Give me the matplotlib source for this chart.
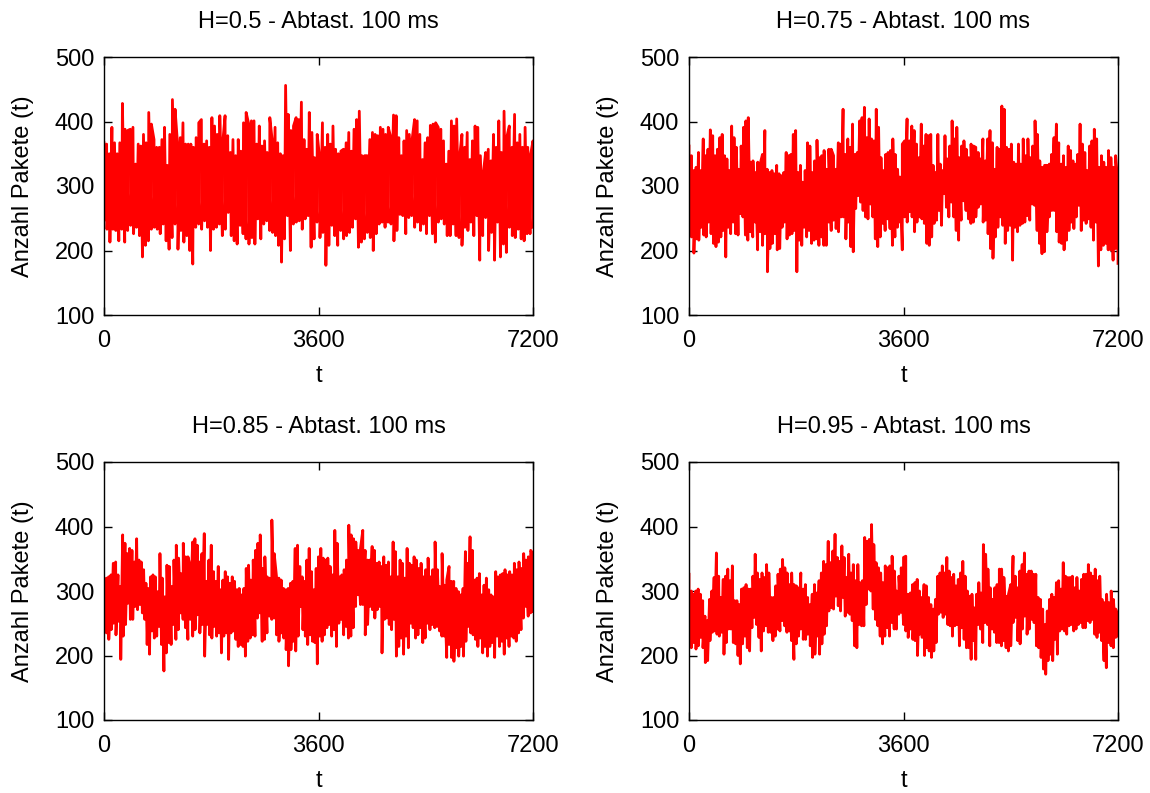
import numpy as np
import matplotlib
matplotlib.use("Agg")
import matplotlib.pyplot as plt

plt.rcParams['font.family'] = ['Liberation Sans', 'DejaVu Sans']

titles = ["H=0.5 - Abtast. 100 ms", "H=0.75 - Abtast. 100 ms",
          "H=0.85 - Abtast. 100 ms", "H=0.95 - Abtast. 100 ms"]
xticks = [0, 3600, 7200]
yticks = [100, 200, 300, 400, 500]

# Panel 1 (H=0.5): local maxima / minima read left to right
peaks_05 = [367, 365, 350, 391, 367, 350, 367, 428, 388, 386, 388, 391, 334, 365, 362, 380, 367, 414, 396, 372,
            360, 360, 372, 391, 332, 380, 434, 419, 362, 375, 398, 365, 365, 365, 360, 375, 398, 403, 365, 370,
            360, 406, 393, 380, 409, 362, 409, 378, 352, 372, 347,
            372, 354, 398, 414, 396, 401, 401, 365, 393, 362, 370, 352, 406, 367, 391, 367, 350, 347, 456, 411,
            386, 393, 406, 403, 430, 372, 357, 414, 383, 344, 380, 341, 398, 360, 380, 365, 393, 357, 350, 354,
            357, 367, 383, 354, 388, 403, 416, 347, 347, 347, 372, 383, 380, 378, 391, 388,
            380, 391, 375, 410, 409, 375, 347, 370, 386, 380, 370, 403, 401, 380, 341, 367, 375, 394, 396, 398,
            391, 388, 370, 334, 354, 401, 393, 404, 341, 380, 360, 383, 341, 370, 393, 391, 347, 316, 352, 357,
            339, 380, 360, 401, 352, 416, 375, 393, 360, 411, 367, 380, 360, 391, 360, 347, 370]
troughs_05 = [246, 233, 213, 233, 231, 215, 233, 213, 231, 239, 226, 236, 223, 190, 208, 215, 233, 236, 233, 226,
              241, 215, 202, 220, 241, 202, 231, 213, 223, 200, 179, 236, 241, 233, 246, 236, 200, 233, 236, 241,
              223, 233, 259, 223,
              215, 210, 239, 226, 218, 210, 220, 210, 249, 218, 241, 246, 231, 228, 223, 208, 182, 218, 254, 200,
              241, 244, 246, 233, 249, 254, 205, 218, 244, 220, 228, 177, 208, 239, 223, 208, 231, 218, 223, 228,
              236, 249, 205, 213, 218, 228, 220, 200, 226, 241, 244, 236,
              244, 241, 215, 231, 256, 254, 226, 251, 254, 236, 244, 231, 241, 226, 254, 226, 213, 244, 249, 241,
              223, 223, 241, 223, 220, 208, 236, 231, 244, 223, 254, 185, 223, 251, 200, 228, 185, 244, 190, 210,
              197, 236, 223, 220, 233, 218, 215, 226, 226, 236]

# Panel 2 (H=0.75)
peaks_075 = [362, 347, 324, 329, 352, 324, 373, 347, 357, 387, 378, 347, 357, 375, 380, 347, 342, 324, 393, 375,
             360, 326, 362, 391, 401, 406, 337, 339, 321, 337, 334, 349, 386, 326, 321, 324, 319, 332, 319, 316,
             321, 352, 347, 349, 380, 386, 321, 332, 306, 324, 367, 362, 321, 339, 371, 344, 347, 355, 326, 357,
             357, 347, 326, 367, 365, 419, 349, 373, 360, 396, 349, 352, 401, 406, 422, 375, 404, 373, 370, 419,
             391, 344, 324, 349, 352, 355, 373, 349, 326, 314, 365, 370, 404, 370, 393, 386, 365, 344, 396, 362,
             380, 378, 380, 332, 321, 380, 334, 324, 378, 342, 362, 401, 373, 391, 344, 362, 370, 357, 344, 365,
             362, 360,
             352, 342, 373, 339, 373, 386, 367, 326, 360, 357, 424, 419, 360, 357, 365, 337, 334, 365, 334, 373,
             347, 373, 344, 362, 401, 380, 339, 329, 332, 332, 334, 349, 375, 396, 367, 334, 347, 329, 362, 355,
             339, 334, 349, 396, 365, 352, 324, 362, 370, 388, 373, 329, 347, 337, 329, 355, 344, 329, 347, 301]
troughs_075 = [236, 221, 196, 218, 216, 236, 224, 221, 244, 226, 211, 206, 213, 221, 231, 190, 236, 226, 244, 226,
               224, 257, 252, 224, 216, 229, 221, 244, 201, 229, 208, 226, 167, 203, 211, 226, 201, 203, 236, 244,
               218, 224, 226, 231, 167, 216, 208, 236, 221, 231, 211, 216, 218, 208, 221, 208,
               208, 244, 231, 247, 234, 229, 252, 252, 218, 244, 206, 198, 265, 285, 275, 262, 252, 249, 272, 252,
               218, 206, 221, 242, 231, 249, 234, 208, 221, 236, 244, 201, 252, 244, 260, 252, 229, 244, 252, 249,
               242, 211, 208, 221, 242, 247, 262, 239, 288, 267, 252, 275, 252, 231, 216, 247, 277, 262, 249, 242,
               244, 252, 267, 272, 244, 247, 226, 203, 188, 221, 236, 252, 239, 211, 231, 239, 185, 236, 229, 239,
               242, 244, 254, 247, 272, 270, 231, 211, 195, 198, 229, 252, 262, 262, 229, 213, 211, 201, 216, 231,
               244, 234, 252, 270, 231, 247, 242, 249, 236, 216, 244, 176, 201, 208, 211, 201, 201, 185, 203, 180]

# Panel 3 (H=0.85)
peaks_085 = [302, 320, 322, 325, 343, 345, 325, 307, 387, 374, 358, 366, 363, 345, 381, 348, 345, 333, 312, 304,
             322, 325, 322, 299, 358, 320, 291, 340, 338, 307, 348, 371, 351, 327, 374, 353, 353, 338, 376, 381,
             371, 345, 358, 389, 315, 348, 371, 330, 315, 338, 302, 317, 330, 322, 312, 322, 315, 302, 304,
             294, 304, 335, 340, 317, 348, 363, 374, 387, 335, 353, 322, 320, 410, 358, 322, 320, 317, 304, 302,
             304, 312, 315, 366, 371, 338, 322, 315, 348, 366, 330, 302, 335, 353, 366, 351, 348, 351, 338, 325,
             394, 374, 322, 325, 333, 348, 402, 387, 381, 376, 363, 366, 394, 363, 348, 348, 369, 363, 343, 345,
             338, 353, 340,
             345, 322, 376, 361, 322, 348, 343, 320, 366, 343, 340, 353, 348, 335, 343, 322, 333, 351, 322, 333,
             376, 333, 307, 358, 309, 317, 338, 315, 315, 304, 299, 294, 304, 361, 343, 384, 363, 317, 320, 327,
             294, 309, 320, 302, 294, 291, 330, 322, 325, 327, 333, 325, 330, 325, 343, 333, 345, 335, 358, 348,
             353, 363, 358]
troughs_085 = [266, 235, 225, 240, 250, 232, 253, 194, 230, 248, 281, 256, 256, 276, 271, 279, 266, 256, 217, 202,
               238, 227, 230, 245, 217, 176, 204, 220, 217, 248, 225, 240, 266, 256, 243, 225, 256, 230, 240, 263,
               235, 248, 199, 248, 232, 227, 245, 230, 235, 204, 230, 235, 194, 235, 238, 225, 214, 217,
               214, 199, 222, 227, 232, 230, 258, 266, 222, 225, 235, 261, 256, 258, 232, 222, 235, 227, 209, 184,
               209, 222, 207, 230, 276, 240, 230, 217, 232, 222, 220, 187, 230, 222, 232, 243, 248, 230, 240, 214,
               250, 256, 232, 245, 227, 230, 243, 276, 294, 279, 279, 232, 248, 276, 271, 258, 271, 276, 204, 256,
               258, 248,
               240, 256, 199, 214, 227, 202, 230, 212, 250, 243, 227, 232, 243, 220, 227, 250, 240, 248, 243, 245,
               238, 230, 230, 197, 217, 197, 191, 212, 199, 214, 199, 222, 245, 235, 232, 225, 214, 227, 204, 214,
               199, 214, 220, 197, 230, 214, 222, 202, 227, 214, 230, 227, 222, 235, 240, 258, 276, 261, 266, 268]

# Panel 4 (H=0.95)
peaks_095 = [326, 300, 295, 300, 303, 295, 285, 261, 254, 287, 300, 321, 359, 323, 290, 318, 323, 334, 316, 339,
             285, 285, 279, 303, 305, 310, 303, 303, 323, 357, 328, 318, 328, 321, 341, 328, 290, 290, 308, 326,
             334, 349, 336, 328, 310, 328, 310, 308, 303, 328, 303, 310, 290, 279, 295, 310, 297, 316, 328, 346,
             341, 377,
             344, 362, 388, 352, 346, 370, 352, 321, 357, 328, 341, 316, 341, 313, 316, 383, 377, 380, 403, 372,
             344, 336, 328, 313, 339, 336, 339, 354, 331, 300, 323, 336, 352, 354, 295, 297, 310, 313, 318, 300,
             290, 310, 308, 290, 279, 272, 287, 323, 328, 339, 328, 352, 331, 321, 326, 308, 318, 328, 346, 323,
             300, 292, 295,
             274, 295, 313, 297, 372, 357, 334, 305, 287, 305, 310, 334, 334, 321, 292, 295, 310, 354, 323, 305,
             331, 341, 359, 326, 331, 331, 326, 326, 290, 287, 272, 248, 269, 287, 295, 290, 313, 316, 303, 344,
             323, 321, 321, 323, 305, 321, 300, 318, 326, 326, 341, 328, 323, 334, 316, 323, 287, 282, 295, 282,
             300, 287, 272, 262]
troughs_095 = [243, 212, 220, 210, 215, 228, 212, 189, 192, 223, 236, 238, 233, 230, 236, 202, 220, 241, 241, 220,
               218, 200, 187, 218, 230, 212, 207, 243, 259, 248, 228, 207, 238, 246, 236, 236, 223, 230, 241, 238,
               254, 246, 236, 238, 223, 194, 218, 230, 241, 225, 225, 233, 215, 197, 202, 230, 202, 218, 233, 246,
               269,
               274, 272, 292, 277, 269, 290, 261, 267, 264, 254, 215, 212, 248, 246, 246, 279, 303, 300, 272, 256,
               246, 230, 218, 230, 243, 230, 251, 241, 241, 264, 267, 248, 238, 228, 241, 225, 223, 200, 233, 228,
               200, 212, 207, 197, 207, 220, 264, 267, 259, 264, 248, 246, 230, 246, 248, 215, 243, 225, 212, 212,
               194, 223,
               194, 248, 241, 220, 251, 248, 215, 241, 236, 220, 220, 215, 223, 212, 207, 215, 251, 259, 223, 218,
               241, 261, 233, 241, 256, 251, 215, 212, 197, 179, 171, 192, 202, 192, 225, 202, 238, 241, 238, 233,
               246, 248, 238, 241, 248, 251, 243, 243, 254, 251, 256, 233, 228, 236, 223, 192, 181, 220, 215, 212,
               228, 230]

series = [(peaks_05, troughs_05), (peaks_075, troughs_075),
          (peaks_085, troughs_085), (peaks_095, troughs_095)]

fig = plt.figure(figsize=(11.5, 7.93), dpi=100)
W, H = 1150, 793
boxes = [(104, 57), (689, 57), (104, 462), (689, 462)]
aw, ah = 429, 258
FS = 17

for (x0, y0), title, (pk, tr) in zip(boxes, titles, series):
    ax = fig.add_axes([x0 / W, 1 - (y0 + ah) / H, aw / W, ah / H])
    tp = np.linspace(0, 7200, len(pk))
    tt = np.linspace(0, 7200, len(tr))
    t = np.concatenate([tp, tt])
    v = np.concatenate([pk, tr])
    kind = np.concatenate([np.zeros(len(pk)), np.ones(len(tr))])
    order = np.lexsort((kind, t))
    ax.plot(t[order], v[order], color='#ff0000', linewidth=2.0)
    ax.set_xlim(0, 7200)
    ax.set_ylim(100, 500)
    ax.set_xticks(xticks)
    ax.set_yticks(yticks)
    ax.tick_params(direction='in', top=True, right=True, length=6, width=1,
                   labelsize=FS)
    ax.tick_params(axis='y', pad=7)
    ax.tick_params(axis='x', pad=11)
    for s in ax.spines.values():
        s.set_linewidth(1.0)
    ax.text(0.5, 1 + 35 / ah, title, ha='center', va='center',
            fontsize=FS, transform=ax.transAxes)
    ax.set_xlabel('t', fontsize=FS)
    ax.xaxis.set_label_coords(0.5, -50 / ah)
    ax.set_ylabel('Anzahl Pakete (t)', fontsize=FS)
    ax.yaxis.set_label_coords(-70 / aw, 0.5)

fig.savefig('out.png', dpi=100)
